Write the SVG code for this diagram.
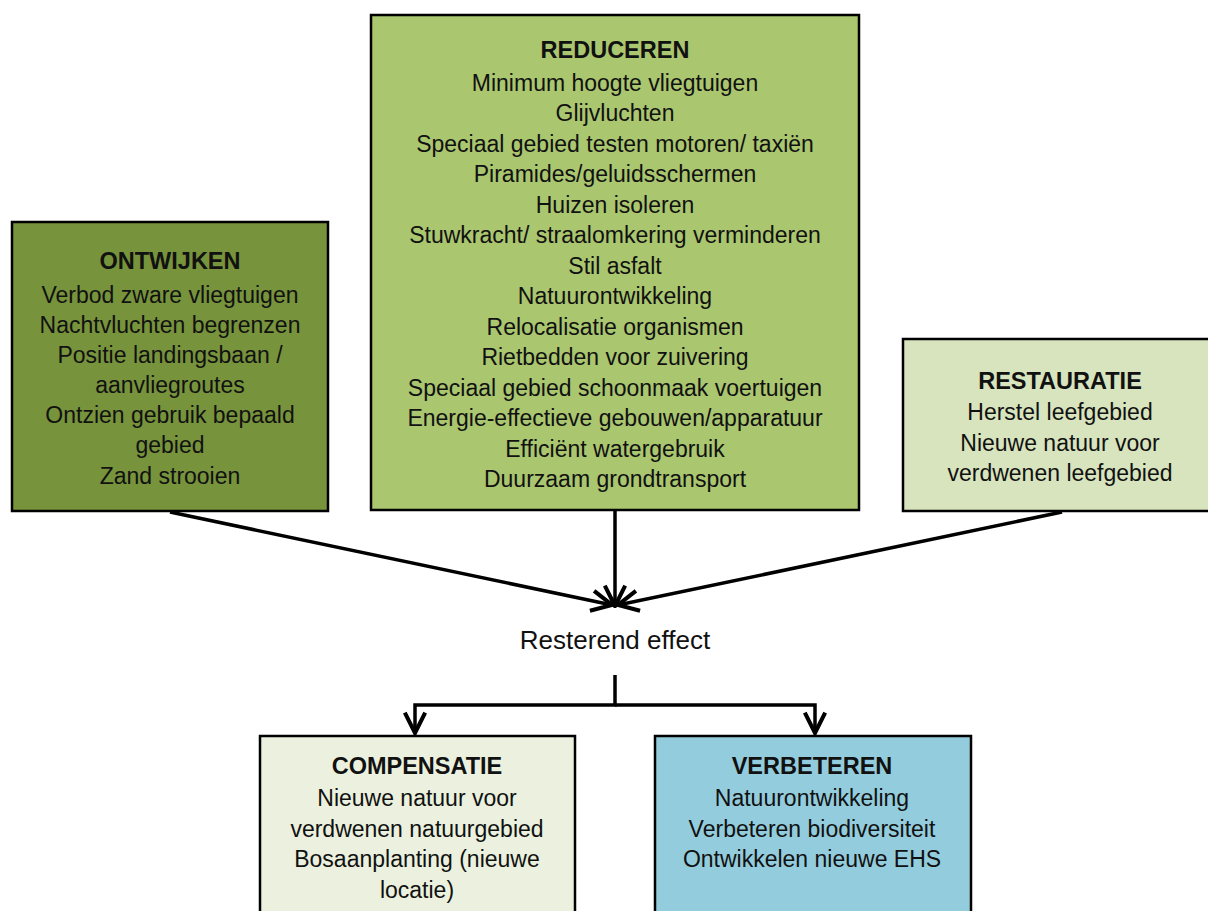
<svg xmlns="http://www.w3.org/2000/svg" width="1208" height="911" viewBox="0 0 1208 911">
  <style>
    .box { stroke: #000; stroke-width: 2.5; }
    .t { font-family: "Liberation Sans", Arial, sans-serif; font-size: 23px; fill: #111; text-anchor: middle; }
    .h { font-weight: bold; font-size: 23.5px; }
    .big { font-size: 26px; }
    .conn { stroke: #000; stroke-width: 3.5; fill: none; }
  </style>
  <defs>
    <marker id="arrow" viewBox="0 0 12 12" refX="11" refY="6" markerWidth="7" markerHeight="7" orient="auto" markerUnits="strokeWidth">
      <path d="M1,1 L11,6 L1,11" fill="none" stroke="#000" stroke-width="2"/>
    </marker>
  </defs>
  <rect width="1208" height="911" fill="#fff"/>

  <g id="connectors">
    <line class="conn" x1="170" y1="512" x2="612" y2="605" marker-end="url(#arrow)"/>
    <line class="conn" x1="615" y1="511" x2="615" y2="606" marker-end="url(#arrow)"/>
    <line class="conn" x1="1062" y1="512" x2="618" y2="605" marker-end="url(#arrow)"/>
    <polyline class="conn" points="615,675 615,705 415,705 415,733" marker-end="url(#arrow)"/>
    <polyline class="conn" points="615,705 815,705 815,733" marker-end="url(#arrow)"/>
  </g>

  <g id="ontwijken">
    <rect class="box" x="12" y="222" width="316" height="289" fill="#77933C"/>
    <text class="t h" x="170" y="269">ONTWIJKEN</text>
    <text class="t" x="170" y="303">Verbod zware vliegtuigen</text>
    <text class="t" x="170" y="333">Nachtvluchten begrenzen</text>
    <text class="t" x="170" y="363">Positie landingsbaan /</text>
    <text class="t" x="170" y="393">aanvliegroutes</text>
    <text class="t" x="170" y="423">Ontzien gebruik bepaald</text>
    <text class="t" x="170" y="453">gebied</text>
    <text class="t" x="170" y="484">Zand strooien</text>
  </g>

  <g id="reduceren">
    <rect class="box" x="371" y="15" width="488" height="495" fill="#AAC66F"/>
    <text class="t h" x="615" y="58">REDUCEREN</text>
    <text class="t" x="615" y="91">Minimum hoogte vliegtuigen</text>
    <text class="t" x="615" y="121">Glijvluchten</text>
    <text class="t" x="615" y="152">Speciaal gebied testen motoren/ taxiën</text>
    <text class="t" x="615" y="182">Piramides/geluidsschermen</text>
    <text class="t" x="615" y="213">Huizen isoleren</text>
    <text class="t" x="615" y="243">Stuwkracht/ straalomkering verminderen</text>
    <text class="t" x="615" y="274">Stil asfalt</text>
    <text class="t" x="615" y="304">Natuurontwikkeling</text>
    <text class="t" x="615" y="335">Relocalisatie organismen</text>
    <text class="t" x="615" y="365">Rietbedden voor zuivering</text>
    <text class="t" x="615" y="396">Speciaal gebied schoonmaak voertuigen</text>
    <text class="t" x="615" y="426">Energie-effectieve gebouwen/apparatuur</text>
    <text class="t" x="615" y="457">Efficiënt watergebruik</text>
    <text class="t" x="615" y="487">Duurzaam grondtransport</text>
  </g>

  <g id="restauratie">
    <rect class="box" x="903" y="339" width="320" height="172" fill="#D7E4BD"/>
    <text class="t h" x="1060" y="389">RESTAURATIE</text>
    <text class="t" x="1060" y="420">Herstel leefgebied</text>
    <text class="t" x="1060" y="451">Nieuwe natuur voor</text>
    <text class="t" x="1060" y="481">verdwenen leefgebied</text>
  </g>

  <g id="resterend">
    <text class="t big" x="615" y="649">Resterend effect</text>
  </g>

  <g id="compensatie">
    <rect class="box" x="260" y="736" width="315" height="190" fill="#EBF1DE"/>
    <text class="t h" x="417" y="774">COMPENSATIE</text>
    <text class="t" x="417" y="806">Nieuwe natuur voor</text>
    <text class="t" x="417" y="837">verdwenen natuurgebied</text>
    <text class="t" x="417" y="867">Bosaanplanting (nieuwe</text>
    <text class="t" x="417" y="898">locatie)</text>
  </g>

  <g id="verbeteren">
    <rect class="box" x="655" y="736" width="316" height="190" fill="#93CDDD"/>
    <text class="t h" x="812" y="774">VERBETEREN</text>
    <text class="t" x="812" y="806">Natuurontwikkeling</text>
    <text class="t" x="812" y="837">Verbeteren biodiversiteit</text>
    <text class="t" x="812" y="867">Ontwikkelen nieuwe EHS</text>
  </g>
</svg>
